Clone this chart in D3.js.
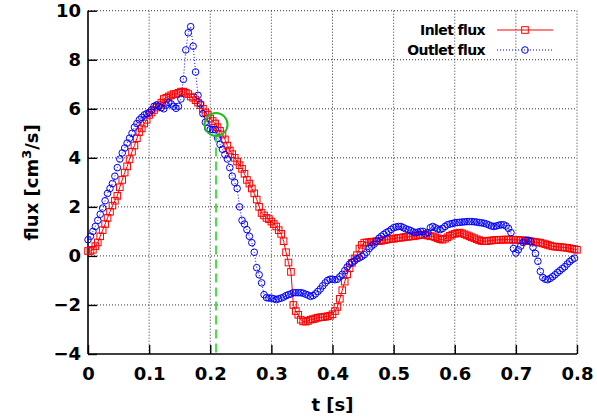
<!DOCTYPE html>
<html>
<head>
<meta charset="utf-8">
<script src="https://cdn.jsdelivr.net/npm/d3@7"></script>
<style>
  body { margin: 0; background: #fff; }
  text { font-family: "DejaVu Sans", sans-serif; font-weight: bold; fill: #000; }
</style>
</head>
<body>
<svg width="597" height="418"></svg>
<script>
// samples every 4 ms
var step = 0.004;

var inletFlux = [
  0.2, 0.2, 0.25, 0.4, 0.55, 0.8, 1.05, 1.3, 1.55, 1.8,
  2.05, 2.25, 2.45, 2.8, 3.1, 3.4, 3.65, 3.95, 4.25, 4.5,
  4.8, 5.05, 5.2, 5.4, 5.55, 5.75, 5.85, 5.95, 6.05, 6.15,
  6.25, 6.4, 6.45, 6.5, 6.55, 6.6, 6.6, 6.65, 6.7, 6.7,
  6.65, 6.6, 6.5, 6.45, 6.35, 6.25, 6.15, 6.0, 5.85, 5.75,
  5.6, 5.5, 5.4, 5.25, 5.1, 4.95, 4.75, 4.5, 4.3, 4.15,
  4.0, 3.85, 3.7, 3.55, 3.35, 3.1, 2.95, 2.75, 2.55, 2.3,
  2.0, 1.75, 1.65, 1.55, 1.5, 1.4, 1.3, 1.2, 1.05, 0.9,
  0.6, 0.15, -0.27, -0.65, -2.0, -2.25, -2.4, -2.6, -2.67, -2.68,
  -2.65, -2.6, -2.58, -2.55, -2.52, -2.5, -2.5, -2.48, -2.46, -2.44,
  -2.38, -2.25, -2.08, -1.75, -1.4, -1.05, -0.75, -0.5, -0.28, -0.1,
  0.03, 0.3, 0.45, 0.54, 0.55, 0.56, 0.58, 0.58, 0.6, 0.6,
  0.62, 0.64, 0.66, 0.68, 0.7, 0.7, 0.72, 0.74, 0.74, 0.76,
  0.78, 0.78, 0.8, 0.8, 0.82, 0.84, 0.86, 0.87, 0.85, 0.83,
  0.8, 0.8, 0.76, 0.72, 0.68, 0.66, 0.7, 0.76, 0.82, 0.87,
  0.9, 0.93, 0.95, 0.92, 0.88, 0.84, 0.8, 0.76, 0.72, 0.68,
  0.64, 0.61, 0.6, 0.6, 0.62, 0.63, 0.64, 0.65, 0.66, 0.66,
  0.66, 0.67, 0.67, 0.66, 0.66, 0.66, 0.65, 0.64, 0.63, 0.62,
  0.61, 0.6, 0.58, 0.56, 0.55, 0.54, 0.51, 0.48, 0.45, 0.42,
  0.39, 0.38, 0.37, 0.36, 0.35, 0.34, 0.33, 0.31, 0.29, 0.27,
  0.25
];

var outletFlux = [
  0.66, 0.8, 1.0, 1.2, 1.45, 1.7, 1.95, 2.25, 2.55, 2.75,
  2.95, 3.25, 3.6, 3.95, 4.2, 4.4, 4.6, 4.8, 5.0, 5.25,
  5.4, 5.55, 5.65, 5.75, 5.8, 5.85, 5.95, 6.1, 6.15, 6.1,
  6.05, 6.0, 6.15, 6.25, 6.2, 6.1, 6.02, 6.1, 6.4, 7.2,
  8.4, 9.1, 9.35, 8.55, 7.5, 6.55, 6.2, 5.8, 5.45, 5.2,
  5.15, 5.15, 5.15, 4.8, 4.55, 4.35, 4.13, 3.95, 3.6, 3.25,
  3.0, 2.75, 2.0, 1.45, 1.3, 1.07, 0.8, 0.54, 0.15, -0.48,
  -0.77, -1.1, -1.58, -1.7, -1.72, -1.72, -1.75, -1.78, -1.75, -1.72,
  -1.68, -1.62, -1.58, -1.55, -1.5, -1.5, -1.5, -1.5, -1.52, -1.56,
  -1.6, -1.65, -1.62, -1.55, -1.45, -1.35, -1.22, -1.1, -1.0, -0.95,
  -0.95, -0.97, -0.95, -0.85, -0.75, -0.6, -0.45, -0.33, -0.26, -0.2,
  -0.12, -0.08, -0.02, 0.05, 0.15, 0.3, 0.4, 0.48, 0.6, 0.72,
  0.8, 0.88, 0.95, 1.0, 1.08, 1.15, 1.18, 1.2, 1.2, 1.15,
  1.1, 1.07, 1.03, 0.98, 0.95, 0.97, 1.0, 1.0, 0.9, 0.95,
  1.15, 1.2, 1.15, 1.1, 1.07, 1.12, 1.2, 1.27, 1.3, 1.32,
  1.35, 1.36, 1.37, 1.38, 1.39, 1.4, 1.4, 1.4, 1.39, 1.38,
  1.36, 1.35, 1.33, 1.3, 1.26, 1.22, 1.2, 1.22, 1.25, 1.27,
  1.27, 1.22, 1.12, 0.95, 0.3, 0.12, 0.25, 0.4, 0.55, 0.64,
  0.64, 0.6, 0.35, 0.1, -0.22, -0.63, -0.88, -0.95, -0.97, -0.92,
  -0.85, -0.77, -0.68, -0.6, -0.52, -0.44, -0.33, -0.23, -0.15, -0.09
];

var xTicks = [0, 0.1, 0.2, 0.3, 0.4, 0.5, 0.6, 0.7, 0.8];
var yTicks = [-4, -2, 0, 2, 4, 6, 8, 10];
var seriesNames = ["Inlet flux", "Outlet flux"];
// green marker: point where the comparison is made
var markT = 0.2095, markV = 5.36;

var svg = d3.select("svg"),
    margin = { top: 10.7, right: 20, bottom: 64, left: 88 },
    width = +svg.attr("width") - margin.left - margin.right,
    height = +svg.attr("height") - margin.top - margin.bottom,
    g = svg.append("g").attr("transform", "translate(" + margin.left + "," + margin.top + ")");

var x = d3.scaleLinear().domain([0, 0.8]).range([0, width]);
var y = d3.scaleLinear().domain([-4, 10]).range([height, 0]);

var inlet = inletFlux.map((v, i) => ({ t: i * step, v: v }));
var outlet = outletFlux.map((v, i) => ({ t: i * step, v: v }));

// grid
g.append("g").selectAll("line").data(xTicks.slice(1)).enter().append("line")
    .attr("x1", d => x(d)).attr("x2", d => x(d))
    .attr("y1", 0).attr("y2", height)
    .attr("stroke", "#333").attr("stroke-dasharray", "1,2");
g.append("g").selectAll("line").data(yTicks.slice(1)).enter().append("line")
    .attr("x1", 0).attr("x2", width)
    .attr("y1", d => y(d)).attr("y2", d => y(d))
    .attr("stroke", "#333").attr("stroke-dasharray", "1,2");

// axes
var xAxis = g.append("g")
    .attr("transform", "translate(0," + height + ")")
    .call(d3.axisBottom(x).tickValues(xTicks).tickSize(-9).tickPadding(13).tickFormat(d3.format("")));
var yAxis = g.append("g")
    .call(d3.axisLeft(y).tickValues(yTicks).tickSize(-9).tickPadding(7));
[xAxis, yAxis].forEach(a => {
    a.select(".domain").attr("stroke", "#000").attr("stroke-width", 1.6);
    a.selectAll(".tick line").attr("stroke", "#000").attr("stroke-width", 1.4);
    a.selectAll(".tick text").style("font-size", "18px").style("font-family", "DejaVu Sans").style("font-weight", "bold");
});
xAxis.select(".domain").attr("d", "M0,0H" + width);
yAxis.select(".domain").attr("d", "M0," + height + "V0");

// axis titles
svg.append("text")
    .attr("x", margin.left + width / 2).attr("y", 411)
    .attr("text-anchor", "middle").style("font-size", "18px")
    .text("t [s]");
var yt = svg.append("text")
    .attr("transform", "translate(38," + (margin.top + height / 2) + ") rotate(-90)")
    .attr("text-anchor", "middle").style("font-size", "18px");
yt.append("tspan").text("flux [cm");
yt.append("tspan").attr("dy", -7).style("font-size", "13px").text("3");
yt.append("tspan").attr("dy", 7).text("/s]");

// series
var line = d3.line().x(d => x(d.t)).y(d => y(d.v));

g.append("path").datum(inlet)
    .attr("fill", "none").attr("stroke", "#ff0000").attr("stroke-width", 1)
    .attr("d", line);
g.append("g").selectAll("rect").data(inlet).enter().append("rect")
    .attr("x", d => x(d.t) - 3.3).attr("y", d => y(d.v) - 3.3)
    .attr("width", 6.6).attr("height", 6.6)
    .attr("fill", "none").attr("stroke", "#ff0000").attr("stroke-width", 1);

g.append("path").datum(outlet)
    .attr("fill", "none").attr("stroke", "#0000ff").attr("stroke-width", 1)
    .attr("stroke-dasharray", "1,2")
    .attr("d", line);
g.append("g").selectAll("circle").data(outlet).enter().append("circle")
    .attr("cx", d => x(d.t)).attr("cy", d => y(d.v)).attr("r", 3.3)
    .attr("fill", "none").attr("stroke", "#0000ff").attr("stroke-width", 1);

// green highlight
g.append("line")
    .attr("x1", x(markT)).attr("x2", x(markT))
    .attr("y1", y(markV) + 9).attr("y2", height)
    .attr("stroke", "#44e044").attr("stroke-width", 2).attr("stroke-dasharray", "9,5");
g.append("circle")
    .attr("cx", x(markT)).attr("cy", y(markV)).attr("r", 11.5)
    .attr("fill", "none").attr("stroke", "#22bb22").attr("stroke-width", 2);

// legend
var legend = svg.append("g");
seriesNames.forEach((name, i) => {
    var ly = 30 + i * 20;
    legend.append("text")
        .attr("x", 485).attr("y", ly + 5)
        .attr("text-anchor", "end").style("font-size", "14px").style("letter-spacing", "-0.6px")
        .text(name);
    legend.append("line")
        .attr("x1", 497).attr("x2", 553).attr("y1", ly).attr("y2", ly)
        .attr("stroke", i ? "#0000ff" : "#ff0000")
        .attr("stroke-dasharray", i ? "1,2" : null);
    if (i) {
        legend.append("circle").attr("cx", 525).attr("cy", ly).attr("r", 3.3)
            .attr("fill", "none").attr("stroke", "#0000ff");
    } else {
        legend.append("rect").attr("x", 521.7).attr("y", ly - 3.3).attr("width", 6.6).attr("height", 6.6)
            .attr("fill", "none").attr("stroke", "#ff0000");
    }
});
</script>
</body>
</html>
